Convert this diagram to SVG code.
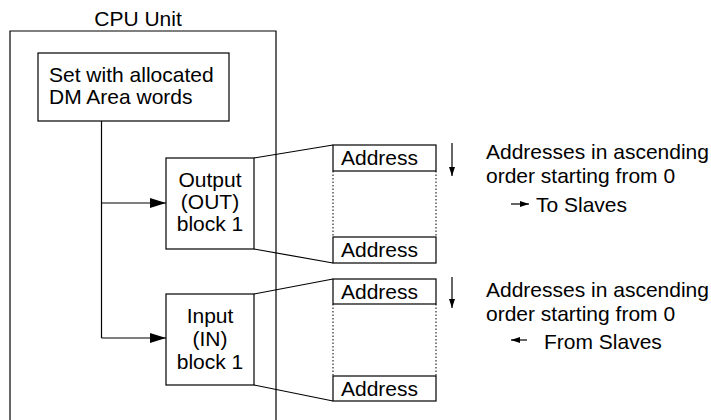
<svg xmlns="http://www.w3.org/2000/svg" width="711" height="420" viewBox="0 0 711 420">
<style>
text{font-family:"Liberation Sans",Arial,sans-serif;font-size:21px;fill:#000}
.box{fill:#fff;stroke:#000;stroke-width:1.2}
.ln{fill:none;stroke:#000;stroke-width:1.2}
.dot{fill:none;stroke:#000;stroke-width:1;stroke-dasharray:1.5 2}
.c{text-anchor:middle}
</style>
<defs>
<marker id="big" markerWidth="16" markerHeight="10" refX="16" refY="5" orient="auto" markerUnits="userSpaceOnUse">
<path d="M0,0 L16,5 L0,10 Z" fill="#000"/>
</marker>
<marker id="small" markerWidth="9" markerHeight="6" refX="9" refY="3" orient="auto" markerUnits="userSpaceOnUse">
<path d="M0,0 L9,3 L0,6 Z" fill="#000"/>
</marker>
</defs>
<g id="cpu">
<text class="c" x="138" y="26">CPU Unit</text>
<path class="ln" d="M10,421 V31 H276 V421" stroke="#333"/>
</g>
<g id="dm">
<rect class="box" x="38" y="53" width="191" height="68"/>
<text x="49" y="82">Set with allocated</text>
<text x="49" y="104">DM Area words</text>
</g>
<g id="out">
<rect class="box" x="166" y="158" width="88" height="91"/>
<text class="c" x="210" y="187">Output</text>
<text class="c" x="210" y="209">(OUT)</text>
<text class="c" x="210" y="231">block 1</text>
</g>
<g id="in">
<rect class="box" x="166" y="294" width="88" height="91"/>
<text class="c" x="210" y="323">Input</text>
<text class="c" x="210" y="346">(IN)</text>
<text class="c" x="210" y="369">block 1</text>
</g>
<g id="outmem">
<rect class="box" x="333" y="145" width="103" height="26"/>
<text x="341" y="165">Address</text>
<rect class="box" x="333" y="237" width="103" height="26"/>
<text x="341" y="257">Address</text>
<path class="dot" d="M333,171 V237 M436,171 V237"/>
</g>
<g id="inmem">
<rect class="box" x="333" y="279" width="103" height="25"/>
<text x="341" y="299">Address</text>
<rect class="box" x="333" y="376" width="103" height="25"/>
<text x="341" y="396">Address</text>
<path class="dot" d="M333,304 V376 M436,304 V376"/>
</g>
<g id="note1">
<text x="486" y="159">Addresses in ascending</text>
<text x="486" y="183">order starting from 0</text>
<text x="536" y="212">To Slaves</text>
</g>
<g id="note2">
<text x="486" y="297">Addresses in ascending</text>
<text x="486" y="321">order starting from 0</text>
<text x="544" y="349">From Slaves</text>
</g>
<g id="connectors">
<path class="ln" d="M101.5,121 V338"/>
<path class="ln" d="M101.5,203 H166" marker-end="url(#big)"/>
<path class="ln" d="M101.5,338 H166" marker-end="url(#big)"/>
<path class="ln" d="M254,158 L333,145 M254,249 L333,263"/>
<path class="ln" d="M254,294 L333,279 M254,385 L333,401"/>
<path class="ln" d="M452,143 V176" marker-end="url(#small)"/>
<path class="ln" d="M452,277 V308" marker-end="url(#small)"/>
<path class="ln" d="M511,204 H529" marker-end="url(#small)"/>
<path class="ln" d="M527,340 H511" marker-end="url(#small)"/>
</g>
</svg>
